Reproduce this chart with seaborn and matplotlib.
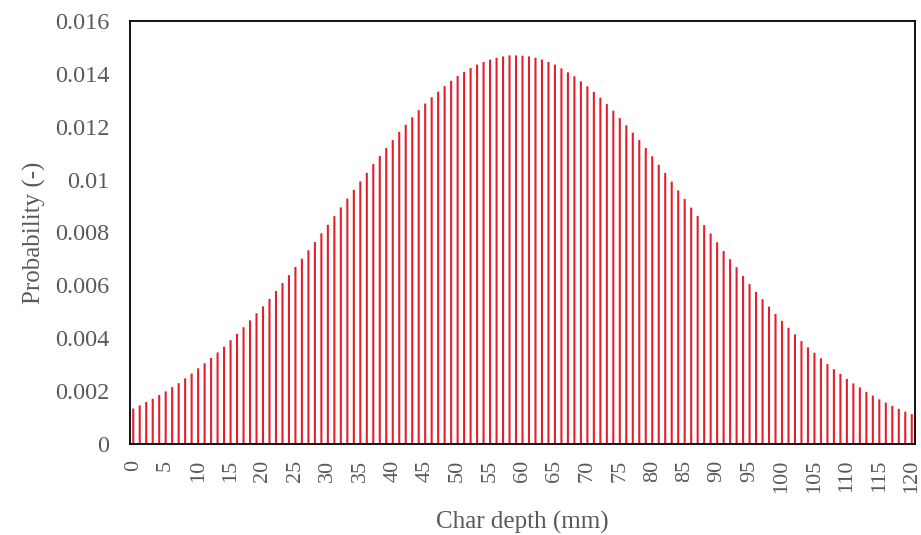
import matplotlib
matplotlib.use("Agg")
import matplotlib.pyplot as plt
import seaborn as sns
import pandas as pd

depth_mm = list(range(0, 121))
probability = [
    0.00135, 0.00147, 0.00160, 0.00172, 0.00186, 0.00200, 0.00216, 0.00231, 0.00249, 0.00267,
    0.00287, 0.00306, 0.00326, 0.00347, 0.00369, 0.00393, 0.00417, 0.00442, 0.00468, 0.00495,
    0.00521, 0.00549, 0.00579, 0.00609, 0.00639, 0.00670, 0.00701, 0.00733, 0.00764, 0.00797,
    0.00829, 0.00862, 0.00895, 0.00928, 0.00961, 0.00993, 0.01025, 0.01059, 0.01089, 0.01119,
    0.01149, 0.01180, 0.01207, 0.01235, 0.01262, 0.01287, 0.01311, 0.01332, 0.01353, 0.01373,
    0.01391, 0.01407, 0.01421, 0.01434, 0.01444, 0.01453, 0.01460, 0.01465, 0.01469, 0.01469,
    0.01468, 0.01465, 0.01460, 0.01453, 0.01444, 0.01434, 0.01420, 0.01405, 0.01390, 0.01371,
    0.01352, 0.01331, 0.01309, 0.01285, 0.01260, 0.01232, 0.01205, 0.01177, 0.01149, 0.01119,
    0.01088, 0.01056, 0.01025, 0.00992, 0.00959, 0.00927, 0.00894, 0.00862, 0.00828, 0.00796,
    0.00763, 0.00730, 0.00699, 0.00669, 0.00636, 0.00605, 0.00576, 0.00548, 0.00520, 0.00492,
    0.00466, 0.00440, 0.00415, 0.00390, 0.00366, 0.00346, 0.00325, 0.00303, 0.00284, 0.00266,
    0.00247, 0.00230, 0.00215, 0.00198, 0.00184, 0.00170, 0.00157, 0.00145, 0.00134, 0.00123,
    0.00114,
]
x_tick_labels = [str(v) for v in range(0, 121, 5)]
y_ticks = [0, 0.002, 0.004, 0.006, 0.008, 0.01, 0.012, 0.014, 0.016]
y_tick_labels = ["0", "0.002", "0.004", "0.006", "0.008", "0.01", "0.012", "0.014", "0.016"]

df = pd.DataFrame({"depth": depth_mm, "prob": probability})

sns.set_theme(style="white")
plt.rcParams["font.family"] = ["Liberation Serif", "DejaVu Serif"]

fig = plt.figure(figsize=(9.21, 5.35), dpi=100)
ax = fig.add_axes([130 / 921, 1 - 444.3 / 535, (915 - 130) / 921, (444.3 - 20.7) / 535])

sns.barplot(data=df, x="depth", y="prob", color="#E41E2B", saturation=1,
            width=0.32, ax=ax, order=depth_mm, linewidth=0)
for p in ax.patches:
    p.set_snap(False)
    p.set_antialiased(True)

ax.set_xlim(-0.5, 120.5)
ax.set_ylim(0, 0.016)
ax.set_yticks(y_ticks)
ax.set_yticklabels(y_tick_labels)
pos = [depth_mm.index(int(t)) for t in x_tick_labels]
ax.set_xticks(pos)
ax.set_xticklabels(x_tick_labels, rotation=90)

grey = "#595959"
ax.tick_params(axis="y", length=0, pad=15, labelsize=17.5, labelcolor=grey)
ax.tick_params(axis="x", length=0, pad=11, labelsize=16, labelcolor=grey)
ax.set_xlabel("Char depth (mm)", fontsize=18, color=grey, labelpad=13)
ax.set_ylabel("Probability (-)", fontsize=18, color=grey, labelpad=6)

for s in ax.spines.values():
    s.set_visible(True)
    s.set_color("black")
    s.set_linewidth(1.3)
ax.grid(False)

fig.savefig("out.png", dpi=100)
